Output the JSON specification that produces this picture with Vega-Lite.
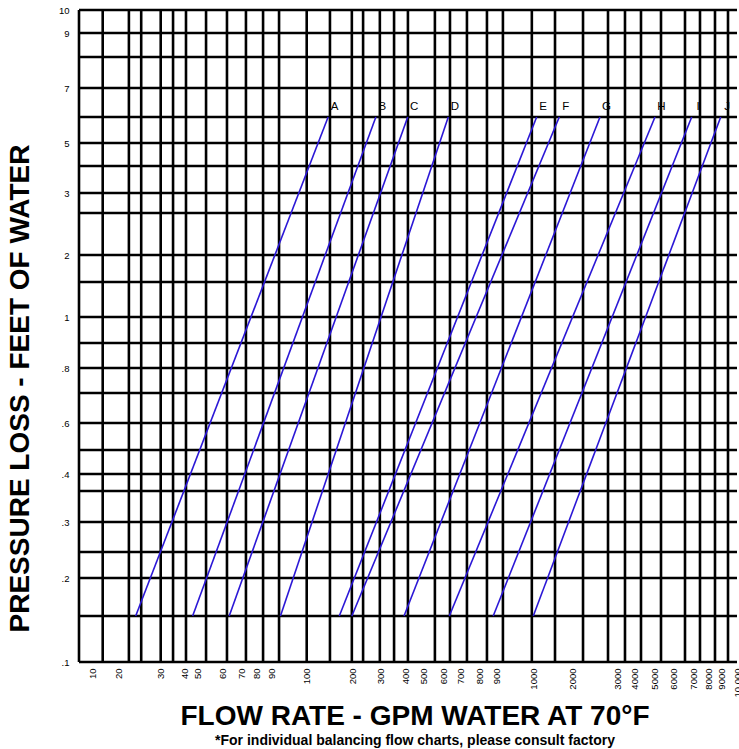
{
  "$schema": "https://vega.github.io/schema/vega-lite/v6.json",
  "width": 658,
  "height": 652,
  "autosize": "none",
  "padding": {"left": 79, "top": 10, "right": 2, "bottom": 87},
  "background": "white",
  "config": {
    "view": {"stroke": null},
    "font": "Liberation Sans",
    "axis": {"labelOverlap": false, "labelFlush": false}
  },
  "title": {
    "text": "FLOW RATE - GPM WATER AT 70°F",
    "subtitle": "*For individual balancing flow charts, please consult factory",
    "orient": "bottom",
    "anchor": "middle",
    "font": "Liberation Sans",
    "fontSize": 28,
    "fontWeight": "bold",
    "color": "black",
    "subtitleFont": "Liberation Sans",
    "subtitleFontSize": 14,
    "subtitleFontWeight": "bold",
    "subtitleColor": "black",
    "subtitlePadding": 3,
    "offset": 6,
    "dx": 7
  },
  "datasets": {
    "curves": [
      {"curve": "A", "flow": 24.1, "pressure": 0.15},
      {"curve": "A", "flow": 147, "pressure": 6},
      {"curve": "B", "flow": 46.5, "pressure": 0.15},
      {"curve": "B", "flow": 283, "pressure": 6},
      {"curve": "C", "flow": 63.7, "pressure": 0.15},
      {"curve": "C", "flow": 415, "pressure": 6},
      {"curve": "D", "flow": 92.5, "pressure": 0.15},
      {"curve": "D", "flow": 630, "pressure": 6},
      {"curve": "E", "flow": 171.5, "pressure": 0.15},
      {"curve": "E", "flow": 1086, "pressure": 6},
      {"curve": "F", "flow": 199, "pressure": 0.15},
      {"curve": "F", "flow": 1660, "pressure": 6},
      {"curve": "G", "flow": 396, "pressure": 0.15},
      {"curve": "G", "flow": 2616, "pressure": 6},
      {"curve": "H", "flow": 636, "pressure": 0.15},
      {"curve": "H", "flow": 5026, "pressure": 6},
      {"curve": "I", "flow": 880, "pressure": 0.15},
      {"curve": "I", "flow": 6910, "pressure": 6},
      {"curve": "J", "flow": 1000, "pressure": 0.15},
      {"curve": "J", "flow": 8924, "pressure": 6}
    ],
    "vgrid": [
      {"flow": 5}, {"flow": 14}, {"flow": 22.5}, {"flow": 25.4}, {"flow": 30}, {"flow": 35.3},
      {"flow": 41.5}, {"flow": 53.5}, {"flow": 62.5}, {"flow": 73.3}, {"flow": 84.5}, {"flow": 92.1},
      {"flow": 100}, {"flow": 151}, {"flow": 199}, {"flow": 238}, {"flow": 297}, {"flow": 355},
      {"flow": 416}, {"flow": 558}, {"flow": 640}, {"flow": 736}, {"flow": 844}, {"flow": 917},
      {"flow": 996}, {"flow": 1551}, {"flow": 2233}, {"flow": 2797}, {"flow": 3470}, {"flow": 4341},
      {"flow": 5342}, {"flow": 6575}, {"flow": 7433}, {"flow": 8492}, {"flow": 9412}
    ],
    "hgrid": [
      {"pressure": 0.1}, {"pressure": 0.15}, {"pressure": 0.2}, {"pressure": 0.25}, {"pressure": 0.3},
      {"pressure": 0.35}, {"pressure": 0.4}, {"pressure": 0.5}, {"pressure": 0.6}, {"pressure": 0.7},
      {"pressure": 0.8}, {"pressure": 0.9}, {"pressure": 1}, {"pressure": 1.5}, {"pressure": 2},
      {"pressure": 2.5}, {"pressure": 3}, {"pressure": 4}, {"pressure": 5}, {"pressure": 6},
      {"pressure": 7}, {"pressure": 8}, {"pressure": 9}, {"pressure": 10}
    ]
  },
  "layer": [
    {
      "data": {"name": "vgrid"},
      "mark": {"type": "rule", "color": "black", "strokeWidth": 2.6},
      "encoding": {
        "x": {
          "field": "flow", "type": "quantitative",
          "scale": {
            "type": "linear", "nice": false, "zero": false,
            "domain": [5, 10, 20, 30, 40, 50, 60, 70, 80, 90, 100, 200, 300, 400, 500, 600, 700, 800, 900, 1000, 2000, 3000, 4000, 5000, 6000, 7000, 8000, 9000, 10000],
            "range": [0, 13.3, 39.3, 81.7, 105, 118.3, 143.3, 162, 177, 192.7, 227.7, 273.3, 301.7, 326, 344.3, 364.3, 381, 400.3, 417.7, 454.3, 493.7, 538, 555, 575.5, 594.5, 614.5, 629.5, 642.7, 658]
          },
          "axis": {
            "title": null,
            "values": [10, 20, 30, 40, 50, 60, 70, 80, 90, 100, 200, 300, 400, 500, 600, 700, 800, 900, 1000, 2000, 3000, 4000, 5000, 6000, 7000, 8000, 9000, 10000],
            "tickCount": 60,
            "labelExpr": "datum.value == 10000 ? '10,000' : format(datum.value, 'd')",
            "labelAngle": 270,
            "labelAlign": "right",
            "labelBaseline": "middle",
            "labelFontSize": 9.5,
            "labelColor": "black",
            "labelPadding": 6,
            "labelFlush": false,
            "labelOverlap": false,
            "labelBound": false,
            "ticks": false,
            "domain": false,
            "grid": false
          }
        }
      }
    },
    {
      "data": {"name": "hgrid"},
      "mark": {"type": "rule", "color": "black", "strokeWidth": 2.6},
      "encoding": {
        "y": {
          "field": "pressure", "type": "quantitative",
          "scale": {
            "type": "linear", "nice": false, "zero": false,
            "domain": [0.1, 0.15, 0.2, 0.25, 0.3, 0.35, 0.4, 0.5, 0.6, 0.7, 0.8, 0.9, 1, 1.5, 2, 2.5, 3, 4, 5, 6, 7, 8, 9, 10],
            "range": [652, 606, 568, 542, 512, 481, 464, 440, 413, 383, 358, 333, 307, 272, 245, 203, 183, 156, 133, 107, 78, 47, 23, 0]
          },
          "axis": {
            "title": "PRESSURE LOSS - FEET OF WATER",
            "titleFontSize": 28,
            "titleFontWeight": "bold",
            "titleColor": "black",
            "titleFont": "Liberation Sans",
            "titleY": 378,
            "titlePadding": 24,
            "values": [0.1, 0.2, 0.3, 0.4, 0.6, 0.8, 1, 2, 3, 5, 7, 9, 10],
            "tickCount": 60,
            "labelExpr": "datum.value < 1 ? slice(format(datum.value, '.1f'), 1) : format(datum.value, 'd')",
            "labelFontSize": 9.5,
            "labelColor": "black",
            "labelPadding": 10,
            "labelFlush": false,
            "labelOverlap": false,
            "ticks": false,
            "domain": false,
            "grid": false
          }
        }
      }
    },
    {
      "data": {"name": "curves"},
      "mark": {"type": "line", "color": "#2b17d6", "strokeWidth": 1.6},
      "encoding": {
        "detail": {"field": "curve", "type": "nominal"},
        "x": {
          "field": "flow", "type": "quantitative",
          "axis": {
            "title": null,
            "values": [10, 20, 30, 40, 50, 60, 70, 80, 90, 100, 200, 300, 400, 500, 600, 700, 800, 900, 1000, 2000, 3000, 4000, 5000, 6000, 7000, 8000, 9000, 10000],
            "tickCount": 60,
            "labelExpr": "datum.value == 10000 ? '10,000' : format(datum.value, 'd')",
            "labelAngle": 270,
            "labelAlign": "right",
            "labelBaseline": "middle",
            "labelFontSize": 9.5,
            "labelColor": "black",
            "labelPadding": 6,
            "labelFlush": false,
            "labelOverlap": false,
            "labelBound": false,
            "ticks": false,
            "domain": false,
            "grid": false
          }
        },
        "y": {
          "field": "pressure", "type": "quantitative",
          "axis": {
            "title": "PRESSURE LOSS - FEET OF WATER",
            "titleFontSize": 28,
            "titleFontWeight": "bold",
            "titleColor": "black",
            "titleFont": "Liberation Sans",
            "titleY": 378,
            "titlePadding": 24,
            "values": [0.1, 0.2, 0.3, 0.4, 0.6, 0.8, 1, 2, 3, 5, 7, 9, 10],
            "tickCount": 60,
            "labelExpr": "datum.value < 1 ? slice(format(datum.value, '.1f'), 1) : format(datum.value, 'd')",
            "labelFontSize": 9.5,
            "labelColor": "black",
            "labelPadding": 10,
            "labelFlush": false,
            "labelOverlap": false,
            "ticks": false,
            "domain": false,
            "grid": false
          }
        }
      }
    },
    {
      "data": {"name": "curves"},
      "transform": [{"filter": "datum.pressure == 6"}],
      "mark": {"type": "text", "fontSize": 11.5, "color": "black", "align": "center", "baseline": "middle", "dx": 6.5, "dy": -10},
      "encoding": {
        "x": {"field": "flow", "type": "quantitative"},
        "y": {"field": "pressure", "type": "quantitative"},
        "text": {"field": "curve", "type": "nominal"}
      }
    }
  ]
}
